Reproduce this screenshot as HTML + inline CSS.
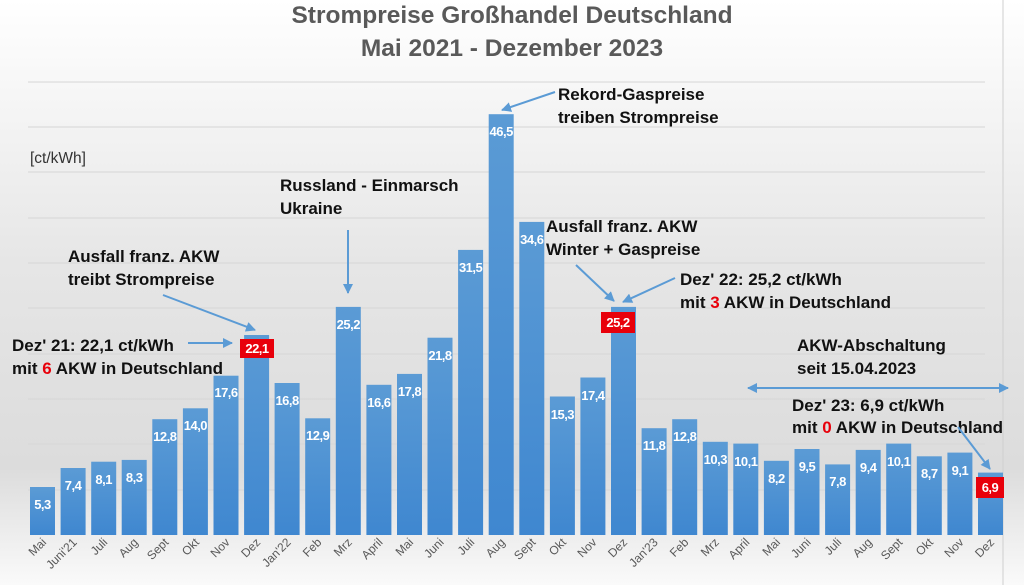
<!DOCTYPE html>
<html><head><meta charset="utf-8"><style>
html,body{margin:0;padding:0;}
svg{display:block;font-family:"Liberation Sans",sans-serif;}
.v{fill:#fff;font-weight:bold;font-size:13px;letter-spacing:-0.5px;text-anchor:middle;}
.x{fill:#595959;font-size:12px;text-anchor:end;}
.a{fill:#111;font-weight:bold;font-size:17px;}
.g{stroke:#d6d6d6;stroke-width:1;}
.ar{stroke:#5b9bd5;stroke-width:2;fill:none;marker-end:url(#h);}
</style></head><body>
<svg width="1024" height="585" viewBox="0 0 1024 585">
<defs>
<linearGradient id="bg" x1="0" y1="0" x2="0" y2="1">
<stop offset="0" stop-color="#ffffff"/><stop offset="0.45" stop-color="#e6e6e6"/><stop offset="0.8" stop-color="#dcdcdc"/><stop offset="1" stop-color="#fafafa"/></linearGradient>
<linearGradient id="bar" x1="0" y1="0" x2="0" y2="1"><stop offset="0" stop-color="#5b9bd5"/><stop offset="1" stop-color="#3f87d0"/></linearGradient>
<marker id="h" viewBox="0 0 10 10" refX="9" refY="5" markerWidth="5" markerHeight="5" orient="auto-start-reverse"><path d="M0,0L10,5L0,10z" fill="#5b9bd5"/></marker>
</defs>
<rect width="1024" height="585" fill="url(#bg)"/>
<line x1="1003" y1="0" x2="1003" y2="585" stroke="#cfcfcf"/>
<g class="g">
<line x1="28" x2="985" y1="82" y2="82"/><line x1="28" x2="985" y1="127" y2="127"/><line x1="28" x2="985" y1="172" y2="172"/><line x1="28" x2="985" y1="218" y2="218"/><line x1="28" x2="985" y1="263" y2="263"/><line x1="28" x2="985" y1="308" y2="308"/><line x1="28" x2="985" y1="354" y2="354"/><line x1="28" x2="985" y1="399" y2="399"/><line x1="28" x2="985" y1="444" y2="444"/><line x1="28" x2="985" y1="490" y2="490"/>
</g>
<text x="512" y="23" text-anchor="middle" font-size="24.5" font-weight="bold" fill="#595959">Strompreise Großhandel Deutschland</text>
<text x="512" y="56" text-anchor="middle" font-size="24.5" font-weight="bold" fill="#595959">Mai 2021 - Dezember 2023</text>
<text x="30" y="163" font-size="15.5" fill="#333">[ct/kWh]</text>
<g fill="url(#bar)">
<rect x="30" y="487" width="25" height="48"/><rect x="60.6" y="468" width="25" height="67"/><rect x="91.2" y="461.7" width="25" height="73.3"/><rect x="121.7" y="459.9" width="25" height="75.1"/><rect x="152.3" y="419.2" width="25" height="115.8"/><rect x="182.9" y="408.3" width="25" height="126.7"/><rect x="213.5" y="375.7" width="25" height="159.3"/><rect x="244.1" y="335" width="25" height="200"/><rect x="274.6" y="383" width="25" height="152"/><rect x="305.2" y="418.3" width="25" height="116.7"/><rect x="335.8" y="306.9" width="25" height="228.1"/><rect x="366.4" y="384.8" width="25" height="150.2"/><rect x="397" y="373.9" width="25" height="161.1"/><rect x="427.5" y="337.7" width="25" height="197.3"/><rect x="458.1" y="249.9" width="25" height="285.1"/><rect x="488.7" y="114.2" width="25" height="420.8"/><rect x="519.3" y="221.9" width="25" height="313.1"/><rect x="549.9" y="396.5" width="25" height="138.5"/><rect x="580.4" y="377.5" width="25" height="157.5"/><rect x="611" y="306.9" width="25" height="228.1"/><rect x="641.6" y="428.2" width="25" height="106.8"/><rect x="672.2" y="419.2" width="25" height="115.8"/><rect x="702.8" y="441.8" width="25" height="93.2"/><rect x="733.3" y="443.6" width="25" height="91.4"/><rect x="763.9" y="460.8" width="25" height="74.2"/><rect x="794.5" y="449" width="25" height="86"/><rect x="825.1" y="464.4" width="25" height="70.6"/><rect x="855.7" y="449.9" width="25" height="85.1"/><rect x="886.2" y="443.6" width="25" height="91.4"/><rect x="916.8" y="456.3" width="25" height="78.7"/><rect x="947.4" y="452.6" width="25" height="82.4"/><rect x="978" y="472.6" width="25" height="62.4"/>
</g>
<rect x="240" y="339" width="34" height="19" fill="#e8000b"/>
<rect x="601" y="312" width="34" height="21" fill="#e8000b"/>
<rect x="976" y="477" width="28" height="21" fill="#e8000b"/>
<g class="v">
<text x="42.5" y="509">5,3</text><text x="73.1" y="490">7,4</text><text x="103.7" y="484">8,1</text><text x="134.2" y="482">8,3</text><text x="164.8" y="441">12,8</text><text x="195.4" y="430">14,0</text><text x="226" y="397">17,6</text><text x="257" y="353">22,1</text><text x="287.1" y="405">16,8</text><text x="317.7" y="440">12,9</text><text x="348.3" y="329">25,2</text><text x="378.9" y="407">16,6</text><text x="409.5" y="396">17,8</text><text x="440" y="360">21,8</text><text x="470.6" y="272">31,5</text><text x="501.2" y="136">46,5</text><text x="531.8" y="244">34,6</text><text x="562.4" y="419">15,3</text><text x="592.9" y="400">17,4</text><text x="618" y="327">25,2</text><text x="654.1" y="450">11,8</text><text x="684.7" y="441">12,8</text><text x="715.3" y="464">10,3</text><text x="745.8" y="466">10,1</text><text x="776.4" y="483">8,2</text><text x="807" y="471">9,5</text><text x="837.6" y="486">7,8</text><text x="868.2" y="472">9,4</text><text x="898.7" y="466">10,1</text><text x="929.3" y="478">8,7</text><text x="959.9" y="475">9,1</text><text x="990" y="492">6,9</text>
</g>
<g class="x">
<text transform="translate(47,543) rotate(-45)">Mai</text><text transform="translate(77.6,543) rotate(-45)">Juni'21</text><text transform="translate(108.2,543) rotate(-45)">Juli</text><text transform="translate(138.7,543) rotate(-45)">Aug</text><text transform="translate(169.3,543) rotate(-45)">Sept</text><text transform="translate(199.9,543) rotate(-45)">Okt</text><text transform="translate(230.5,543) rotate(-45)">Nov</text><text transform="translate(261.1,543) rotate(-45)">Dez</text><text transform="translate(291.6,543) rotate(-45)">Jan'22</text><text transform="translate(322.2,543) rotate(-45)">Feb</text><text transform="translate(352.8,543) rotate(-45)">Mrz</text><text transform="translate(383.4,543) rotate(-45)">April</text><text transform="translate(414,543) rotate(-45)">Mai</text><text transform="translate(444.5,543) rotate(-45)">Juni</text><text transform="translate(475.1,543) rotate(-45)">Juli</text><text transform="translate(505.7,543) rotate(-45)">Aug</text><text transform="translate(536.3,543) rotate(-45)">Sept</text><text transform="translate(566.9,543) rotate(-45)">Okt</text><text transform="translate(597.4,543) rotate(-45)">Nov</text><text transform="translate(628,543) rotate(-45)">Dez</text><text transform="translate(658.6,543) rotate(-45)">Jan'23</text><text transform="translate(689.2,543) rotate(-45)">Feb</text><text transform="translate(719.8,543) rotate(-45)">Mrz</text><text transform="translate(750.3,543) rotate(-45)">April</text><text transform="translate(780.9,543) rotate(-45)">Mai</text><text transform="translate(811.5,543) rotate(-45)">Juni</text><text transform="translate(842.1,543) rotate(-45)">Juli</text><text transform="translate(872.7,543) rotate(-45)">Aug</text><text transform="translate(903.2,543) rotate(-45)">Sept</text><text transform="translate(933.8,543) rotate(-45)">Okt</text><text transform="translate(964.4,543) rotate(-45)">Nov</text><text transform="translate(995,543) rotate(-45)">Dez</text>
</g>
<g class="a">
<text x="68" y="262">Ausfall franz. AKW</text><text x="68" y="285">treibt Strompreise</text>
<text x="12" y="351">Dez' 21: 22,1 ct/kWh</text><text x="12" y="374">mit <tspan fill="#e8000b">6</tspan> AKW in Deutschland</text>
<text x="280" y="191">Russland - Einmarsch</text><text x="280" y="214">Ukraine</text>
<text x="558" y="100">Rekord-Gaspreise</text><text x="558" y="123">treiben Strompreise</text>
<text x="546" y="232">Ausfall franz. AKW</text><text x="546" y="255">Winter + Gaspreise</text>
<text x="680" y="285">Dez' 22: 25,2 ct/kWh</text><text x="680" y="308">mit <tspan fill="#e8000b">3</tspan> AKW in Deutschland</text>
<text x="797" y="351">AKW-Abschaltung</text><text x="797" y="374">seit 15.04.2023</text>
<text x="792" y="411">Dez' 23: 6,9 ct/kWh</text><text x="792" y="433">mit <tspan fill="#e8000b">0</tspan> AKW in Deutschland</text>
</g>
<line class="ar" x1="163" y1="295" x2="255" y2="330"/>
<line class="ar" x1="188" y1="343" x2="232" y2="343"/>
<line class="ar" x1="348" y1="230" x2="348" y2="293"/>
<line class="ar" x1="555" y1="92" x2="502" y2="110"/>
<line class="ar" x1="576" y1="265" x2="614" y2="301"/>
<line class="ar" x1="675" y1="278" x2="623" y2="302"/>
<line class="ar" x1="958" y1="427" x2="990" y2="469"/>
<line class="ar" x1="748" y1="388" x2="1008" y2="388" marker-start="url(#h)"/>
</svg>
</body></html>
